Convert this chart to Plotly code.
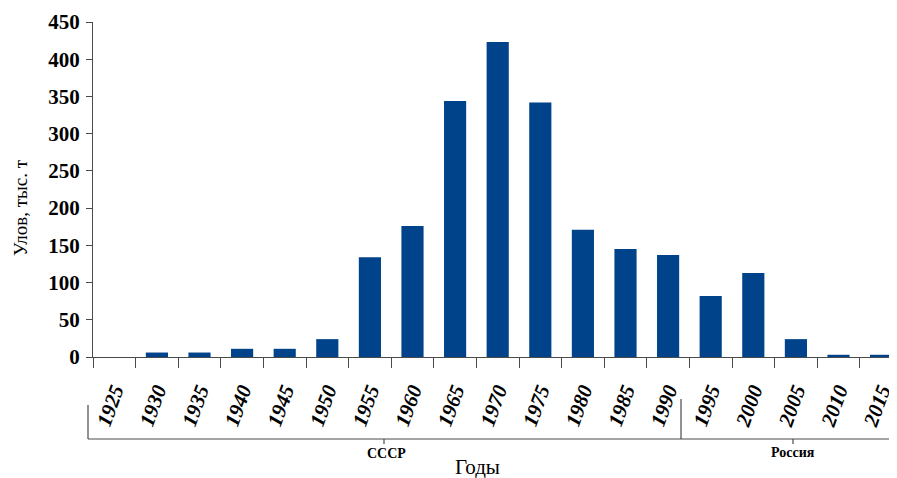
import plotly.graph_objects as go

years = ["1925", "1930", "1935", "1940", "1945", "1950", "1955", "1960", "1965", "1970",
         "1975", "1980", "1985", "1990", "1995", "2000", "2005", "2010", "2015"]
catch = [0, 6, 6, 11, 11, 24, 134, 176, 344, 423, 342, 171, 145, 137, 82, 113, 24, 3, 3]
y_ticks = [0, 50, 100, 150, 200, 250, 300, 350, 400, 450]
groups = ["СССР", "Россия"]
x_title = "Годы"
y_title = "Улов, тыс. т"

# the page body has an 8px margin; size the figure to fit the window
OFF = 8
SW, SH = 897, 478
W, H = SW - OFF, SH - OFF
# plot area in screen pixels
sL, sR, sT, sB = 93, 897, 22, 357
L, R, T, B = sL - OFF, SW - sR, sT - OFF, SH - sB
pw, ph = W - L - R, H - T - B


def px(x):
    return (x - sL) / pw


def py(y):
    return (sB - y) / ph


fig = go.Figure(go.Bar(
    x=years, y=catch, width=0.52,
    marker=dict(color="#00438a", line=dict(width=0)),
))

axis_col = "#4a4a4a"
fig.update_layout(
    width=W, height=H,
    margin=dict(l=L, r=R, t=T, b=B, autoexpand=False),
    plot_bgcolor="white", paper_bgcolor="white",
    showlegend=False,
    xaxis=dict(
        type="category", range=[-0.5, -0.5 + pw / 42.6], automargin=False,
        showline=True, linecolor=axis_col, linewidth=1.2,
        ticks="outside", ticklen=10, tickcolor=axis_col, tickwidth=1.2,
        tickson="boundaries", tickangle=-70,
        tickfont=dict(family="Liberation Serif", size=21, color="black", weight="bold", style="italic"),
        ticklabelstandoff=12,
        showgrid=False, zeroline=False,
    ),
    yaxis=dict(
        range=[0, 450], tickvals=y_ticks, automargin=False,
        showline=True, linecolor=axis_col, linewidth=1.2,
        ticks="outside", ticklen=6, tickcolor=axis_col, tickwidth=1.2,
        tickfont=dict(family="Liberation Serif", size=21, color="black", weight="bold"),
        ticklabelstandoff=2,
        showgrid=False, zeroline=False,
    ),
)

line = dict(color=axis_col, width=1.2)
shapes = [
    dict(type="line", xref="paper", yref="paper", x0=px(88), x1=px(897), y0=py(439), y1=py(439), line=line),
    dict(type="line", xref="paper", yref="paper", x0=px(88), x1=px(88), y0=py(405), y1=py(439), line=line),
    dict(type="line", xref="paper", yref="paper", x0=px(681), x1=px(681), y0=py(399), y1=py(439), line=line),
    dict(type="line", xref="paper", yref="paper", x0=px(384), x1=px(384), y0=py(439), y1=py(444), line=line),
    dict(type="line", xref="paper", yref="paper", x0=px(793), x1=px(793), y0=py(439), y1=py(444), line=line),
]
fig.update_layout(shapes=shapes)

ann_font_b = dict(family="Liberation Serif", size=14, color="black", weight="bold")
fig.add_annotation(text=groups[0], xref="paper", yref="paper", x=px(386), y=py(453),
                   showarrow=False, font=ann_font_b, xanchor="center", yanchor="middle")
fig.add_annotation(text=groups[1], xref="paper", yref="paper", x=px(793), y=py(452),
                   showarrow=False, font=ann_font_b, xanchor="center", yanchor="middle")
fig.add_annotation(text=x_title, xref="paper", yref="paper", x=px(477), y=py(467),
                   showarrow=False, font=dict(family="Liberation Serif", size=21, color="black"),
                   xanchor="center", yanchor="middle")
fig.add_annotation(text=y_title, xref="paper", yref="paper", x=px(20), y=py(208),
                   showarrow=False, textangle=-90,
                   font=dict(family="Liberation Serif", size=19, color="black"),
                   xanchor="center", yanchor="middle")

fig.write_html("out.html")
